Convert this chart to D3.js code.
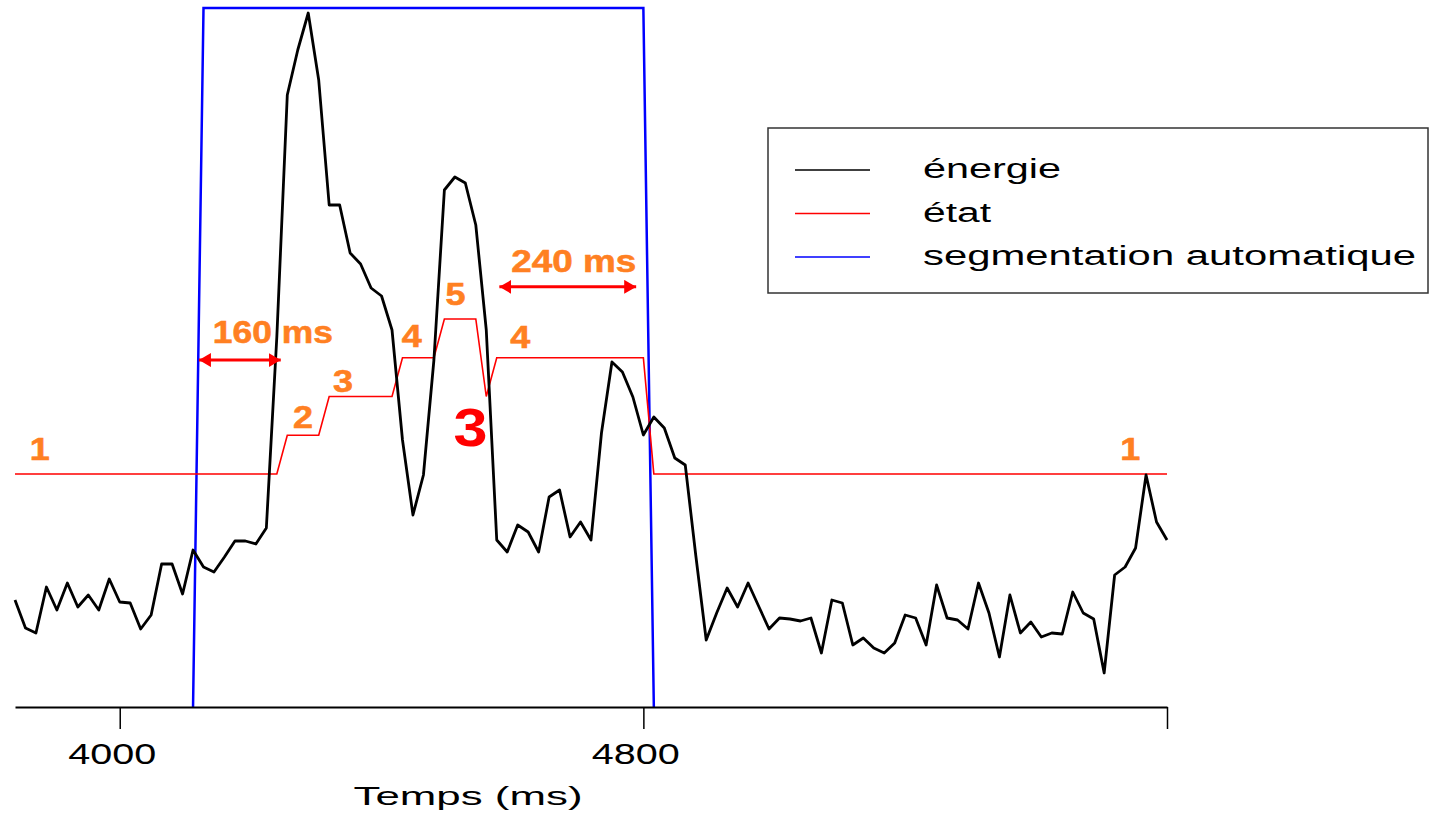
<!DOCTYPE html>
<html>
<head>
<meta charset="utf-8">
<script src="https://cdn.jsdelivr.net/npm/d3@7"></script>
<style>
    body { margin: 0; background: #fff; }
    svg { display: block; font-family: "Liberation Sans", Arial, sans-serif; }
</style>
</head>
<body>
<svg id="chart" width="1430" height="819"></svg>
<script>
// Frames are 16 ms apart, starting at 3840 ms
var startTime = 3840;
var frameMs = 16;

// Short-term energy per frame
var energy = [
    10.7, 7.9, 7.4, 12.0, 9.7, 12.4, 10.0, 11.2, 9.7, 12.8,
    10.5, 10.4, 7.8, 9.2, 14.3, 14.3, 11.3, 15.7, 14.0, 13.5,
    15.0, 16.6, 16.6, 16.3, 17.9, 37.0, 61.2, 65.7, 69.4, 62.7,
    50.2, 50.2, 45.4, 44.3, 41.9, 41.1, 37.7, 26.7, 19.2, 23.2,
    34.7, 51.7, 53.0, 52.4, 48.2, 37.7, 16.7, 15.5, 18.2, 17.5,
    15.5, 21.0, 21.7, 17.0, 18.5, 16.7, 27.4, 34.5, 33.5, 31.0,
    27.2, 29.0, 27.9, 24.9, 24.2, 15.2, 6.7, 9.4, 11.9, 10.0,
    12.4, 10.1, 7.8, 8.9, 8.8, 8.6, 8.9, 5.4, 10.7, 10.4,
    6.2, 6.9, 5.9, 5.4, 6.4, 9.2, 8.9, 6.2, 12.2, 8.9,
    8.7, 7.8, 12.4, 9.4, 5.0, 11.2, 7.4, 8.5, 7.0, 7.4,
    7.3, 11.5, 9.4, 8.8, 3.4, 13.2, 14.0, 15.9, 23.2, 18.5, 16.7
];

// Automaton state per frame
var state = [
    1, 1, 1, 1, 1, 1, 1, 1, 1, 1,
    1, 1, 1, 1, 1, 1, 1, 1, 1, 1,
    1, 1, 1, 1, 1, 1, 2, 2, 2, 2,
    3, 3, 3, 3, 3, 3, 3, 4, 4, 4,
    4, 5, 5, 5, 5, 3, 4, 4, 4, 4,
    4, 4, 4, 4, 4, 4, 4, 4, 4, 4,
    4, 1, 1, 1, 1, 1, 1, 1, 1, 1,
    1, 1, 1, 1, 1, 1, 1, 1, 1, 1,
    1, 1, 1, 1, 1, 1, 1, 1, 1, 1,
    1, 1, 1, 1, 1, 1, 1, 1, 1, 1,
    1, 1, 1, 1, 1, 1, 1, 1, 1, 1, 1
];

// Automatic segmentation (1 = speech)
var segmentation = [
    0, 0, 0, 0, 0, 0, 0, 0, 0, 0,
    0, 0, 0, 0, 0, 0, 0, 0, 1, 1,
    1, 1, 1, 1, 1, 1, 1, 1, 1, 1,
    1, 1, 1, 1, 1, 1, 1, 1, 1, 1,
    1, 1, 1, 1, 1, 1, 1, 1, 1, 1,
    1, 1, 1, 1, 1, 1, 1, 1, 1, 1,
    1, 0, 0, 0, 0, 0, 0, 0, 0, 0,
    0, 0, 0, 0, 0, 0, 0, 0, 0, 0,
    0, 0, 0, 0, 0, 0, 0, 0, 0, 0,
    0, 0, 0, 0, 0, 0, 0, 0, 0, 0,
    0, 0, 0, 0, 0, 0, 0, 0, 0, 0, 0
];

var tickValues = [4000, 4800, 5600];
var tickLabels = ["4000", "4800", ""];

var legendLabels = ["énergie", "état", "segmentation automatique"];
var legendColors = ["#000000", "#ff0000", "#0000ff"];

// State labels along the red curve: [time ms, state level, text]
var stateLabels = [
    [3878, 1.36, "1"], [4280, 2.19, "2"], [4341, 3.12, "3"], [4446, 4.28, "4"],
    [4513, 5.36, "5"], [4612, 4.25, "4"], [5544, 1.36, "1"]
];

// Duration annotations: [from ms, to ms, state level of arrow, label level, text]
var durations = [
    [4121, 4246, 3.94, 4.38, "160 ms"],
    [4580, 4789, 5.83, 6.21, "240 ms"]
];

var orange = "#ff8022";
var svg = d3.select("#chart");

var x = d3.scaleLinear().domain([startTime, 5600]).range([15, 1167]);
var yEnergy = d3.scaleLinear().domain([0, 70]).range([707, 7]);
var yState = d3.scaleLinear().domain([1, 5]).range([474, 319]);
var ySeg = d3.scaleLinear().domain([0, 1]).range([707, 8]);

function frameTime(i) { return startTime + i * frameMs; }

// Arrow heads
var defs = svg.append("defs");
defs.append("marker")
    .attr("id", "arrow")
    .attr("viewBox", "0 0 12 14")
    .attr("refX", 12).attr("refY", 7)
    .attr("markerWidth", 12).attr("markerHeight", 14)
    .attr("markerUnits", "userSpaceOnUse")
    .attr("orient", "auto-start-reverse")
    .append("path")
    .attr("d", "M0,0 L12,7 L0,14 Z")
    .attr("fill", "#ff0000");

// Automatic segmentation: only draw the part that leaves the baseline
var segLine = d3.line()
    .defined(function (d, i) {
        return segmentation[i] || segmentation[i - 1] || segmentation[i + 1];
    })
    .x(function (d, i) { return x(frameTime(i)); })
    .y(function (d) { return ySeg(d); });

svg.append("path")
    .datum(segmentation)
    .attr("d", segLine)
    .attr("fill", "none")
    .attr("stroke", "#0000ff")
    .attr("stroke-width", 2.5);

// Automaton state
var stateLine = d3.line()
    .x(function (d, i) { return x(frameTime(i)); })
    .y(function (d) { return yState(d); });

svg.append("path")
    .datum(state)
    .attr("d", stateLine)
    .attr("fill", "none")
    .attr("stroke", "#ff0000")
    .attr("stroke-width", 1.6);

// Energy
var energyLine = d3.line()
    .x(function (d, i) { return x(frameTime(i)); })
    .y(function (d) { return yEnergy(d); });

svg.append("path")
    .datum(energy)
    .attr("d", energyLine)
    .attr("fill", "none")
    .attr("stroke", "#000")
    .attr("stroke-width", 2.8)
    .attr("stroke-linejoin", "round");

// Time axis
var axis = d3.axisBottom(x)
    .tickValues(tickValues)
    .tickSize(22)
    .tickSizeOuter(0)
    .tickFormat(function (d, i) { return tickLabels[i]; });

var axisG = svg.append("g")
    .attr("transform", "translate(0," + yEnergy(0) + ")")
    .call(axis);

axisG.select(".domain").attr("stroke", "#000").attr("stroke-width", 2);
axisG.selectAll(".tick line").attr("stroke", "#000").attr("stroke-width", 1.5);
axisG.selectAll(".tick text")
    .attr("x", -8)
    .attr("y", 57)
    .attr("dy", 0)
    .attr("fill", "#000")
    .style("font-size", "30px")
    .style("font-family", "'Liberation Sans', Arial, sans-serif")
    .attr("textLength", function (d, i) { return tickLabels[i] ? 88 : null; })
    .attr("lengthAdjust", "spacingAndGlyphs");

svg.append("text")
    .attr("x", 468)
    .attr("y", 805)
    .attr("text-anchor", "middle")
    .attr("font-size", 25)
    .attr("textLength", 229)
    .attr("lengthAdjust", "spacingAndGlyphs")
    .text("Temps (ms)");

// Legend
var legend = svg.append("g").attr("class", "legend");
legend.append("rect")
    .attr("x", 768).attr("y", 128)
    .attr("width", 660).attr("height", 165)
    .attr("fill", "#fff")
    .attr("stroke", "#333")
    .attr("stroke-width", 1.5);

var legendWidths = [138, 68, 493];
legendLabels.forEach(function (label, i) {
    var ly = 170 + i * 43.5;
    legend.append("line")
        .attr("x1", 795).attr("x2", 870)
        .attr("y1", ly).attr("y2", ly)
        .attr("stroke", legendColors[i])
        .attr("stroke-width", 1.3);
    legend.append("text")
        .attr("x", 923)
        .attr("y", ly + 8)
        .attr("font-size", 27)
        .attr("textLength", legendWidths[i])
        .attr("lengthAdjust", "spacingAndGlyphs")
        .text(label);
});

// State numbers
svg.selectAll("text.state-label")
    .data(stateLabels)
    .enter().append("text")
    .attr("class", "state-label")
    .attr("x", function (d) { return x(d[0]); })
    .attr("y", function (d) { return yState(d[1]); })
    .attr("text-anchor", "middle")
    .attr("font-size", 31)
    .attr("font-weight", "bold")
    .attr("fill", orange)
    .attr("stroke", orange)
    .attr("stroke-width", 0.6)
    .attr("textLength", 20)
    .attr("lengthAdjust", "spacingAndGlyphs")
    .text(function (d) { return d[2]; });

// Duration arrows and labels
durations.forEach(function (d) {
    svg.append("line")
        .attr("x1", x(d[0])).attr("x2", x(d[1]))
        .attr("y1", yState(d[2])).attr("y2", yState(d[2]))
        .attr("stroke", "#ff0000")
        .attr("stroke-width", 3)
        .attr("marker-start", "url(#arrow)")
        .attr("marker-end", "url(#arrow)");
    svg.append("text")
        .attr("x", (x(d[0]) + x(d[1])) / 2 + (d[4] === "160 ms" ? 33 : 6))
        .attr("y", yState(d[3]))
        .attr("text-anchor", "middle")
        .attr("font-size", 32)
        .attr("font-weight", "bold")
        .attr("fill", orange)
        .attr("stroke", orange)
        .attr("stroke-width", 0.6)
        .attr("textLength", d[4] === "160 ms" ? 120 : 125)
        .attr("lengthAdjust", "spacingAndGlyphs")
        .text(d[4]);
});

// Big state marker in the dip between the two peaks
svg.append("text")
    .attr("x", x(4536))
    .attr("y", yState(1.72))
    .attr("text-anchor", "middle")
    .attr("font-size", 54)
    .attr("font-weight", "bold")
    .attr("fill", "#ff0000")
    .attr("textLength", 34)
    .attr("lengthAdjust", "spacingAndGlyphs")
    .text("3");
</script>
</body>
</html>
